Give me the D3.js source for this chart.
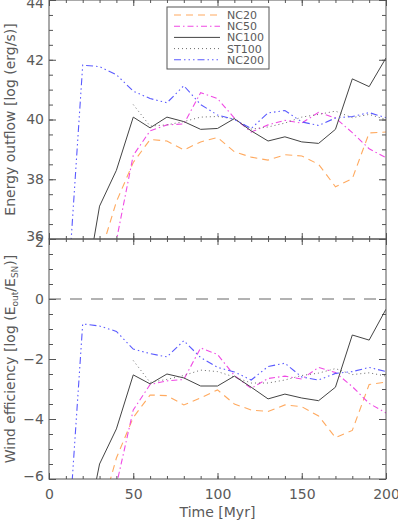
<!DOCTYPE html>
<html>
<head>
<meta charset="utf-8">
<script src="https://cdn.jsdelivr.net/npm/d3@7"></script>
<style>
	body { margin: 0; background: #fff; }
	text { font-family: 'DejaVu Sans', sans-serif; fill: #5a5a5a; }
</style>
</head>
<body>
<svg id="chart" width="398" height="521"></svg>
<script>
// simulation output times (Myr)
const times = [10, 20, 30, 40, 50, 60, 70, 80, 90, 100, 110, 120, 130, 140, 150, 160, 170, 180, 190, 200];

const seriesNames = ['NC20', 'NC50', 'NC100', 'ST100', 'NC200'];

// energy outflow, log (erg/s)
const outNC20 = [null, null, 35.4, 37.25, 38.56, 39.33, 39.28, 38.98, 39.25, 39.4, 38.92, 38.74, 38.64, 38.82, 38.78, 38.5, 37.75, 38.02, 39.55, 39.58];
const outNC50 = [null, null, 33.6, 35.95, 38.8, 39.62, 39.82, 39.85, 40.9, 40.7, 40.05, 39.58, 39.82, 39.97, 39.88, 40.24, 40.05, 39.56, 39.02, 38.72];
const outNC100 = [null, 33.8, 37.1, 38.3, 40.08, 39.72, 40.08, 39.93, 39.67, 39.7, 40.03, 39.62, 39.28, 39.42, 39.25, 39.2, 39.67, 41.36, 41.1, 42.06];
const outST100 = [null, null, null, null, 40.5, 39.78, 39.82, 39.93, 40.08, 40.1, 40.02, 39.68, 39.75, 39.88, 40.08, 40.17, 40.28, 40.06, 40.17, 40.0];
const outNC200 = [33.3, 41.82, 41.77, 41.5, 40.95, 40.7, 40.56, 41.13, 40.5, 40.15, 40.0, 39.7, 40.22, 40.3, 39.92, 39.8, 40.05, 40.1, 40.23, 40.06];

// wind efficiency, log (E_out / E_SN)
const effNC20 = [null, null, -7.3, -5.3, -3.95, -3.2, -3.22, -3.53, -3.3, -3.03, -3.5, -3.7, -3.75, -3.53, -3.59, -3.9, -4.62, -4.38, -2.85, -2.77];
const effNC50 = [null, null, -9.5, -6.2, -3.7, -2.85, -2.73, -2.68, -1.63, -1.85, -2.55, -2.98, -2.65, -2.57, -2.67, -2.28, -2.45, -2.92, -3.48, -3.8];
const effNC100 = [null, -8.3, -5.5, -4.33, -2.53, -2.83, -2.5, -2.63, -2.9, -2.9, -2.57, -2.94, -3.33, -3.17, -3.3, -3.39, -2.94, -1.2, -1.37, -0.34];
const effST100 = [null, null, null, null, -2.05, -2.78, -2.68, -2.55, -2.37, -2.42, -2.6, -2.8, -2.8, -2.7, -2.55, -2.47, -2.32, -2.52, -2.46, -2.57];
const effNC200 = [-9.2, -0.83, -0.9, -1.08, -1.67, -1.82, -1.93, -1.39, -1.95, -2.28, -2.43, -2.7, -2.25, -2.14, -2.6, -2.7, -2.48, -2.42, -2.28, -2.42];

const xTicks = [0, 50, 100, 150, 200];
const outTicks = [36, 38, 40, 42, 44];
const effTicks = [-6, -4, -2, 0, 2];

const styles = {
	NC20: { color: '#ffaa60', dash: '7,5', width: 1.1 },
	NC50: { color: '#f04ae4', dash: '6,3,1.5,3', width: 1.1 },
	NC100: { color: '#444', dash: null, width: 1 },
	ST100: { color: '#6a6a6a', dash: '1,3', width: 1 },
	NC200: { color: '#5a5aff', dash: '7,3,1.5,3,1.5,3,1.5,3', width: 1.1 }
};

const $svg = d3.select('#chart');
const LEFT = 49;
const RIGHT = 386;
const AXIS = '#555';

const x = d3.scaleLinear().domain([0, 200]).range([LEFT, RIGHT]);

function drawPanel({ id, top, bottom, domain, ticks, data, title, showX }) {
	const y = d3.scaleLinear().domain(domain).range([bottom, top]);
	const $g = $svg.append('g').attr('class', id);

	$g.append('clipPath')
		.attr('id', `clip-${id}`)
		.append('rect')
		.attr('x', LEFT)
		.attr('y', top)
		.attr('width', RIGHT - LEFT)
		.attr('height', bottom - top);

	const minorY = d3.range(domain[0], domain[1] + 0.01, 0.5);
	const minorX = d3.range(0, 201, 10);

	// inward ticks on all four sides
	const addAxis = (axis, tr) => {
		const a = $g.append('g').attr('transform', tr).call(axis);
		a.select('.domain').remove();
		a.selectAll('line').attr('stroke', AXIS);
		return a;
	};

	addAxis(d3.axisLeft(y).tickValues(minorY).tickSize(-4).tickFormat(''), `translate(${LEFT},0)`);
	addAxis(d3.axisRight(y).tickValues(minorY).tickSize(-4).tickFormat(''), `translate(${RIGHT},0)`);
	addAxis(d3.axisRight(y).tickValues(ticks).tickSize(-7).tickFormat(''), `translate(${RIGHT},0)`);
	const yAx = addAxis(d3.axisLeft(y).tickValues(ticks).tickSize(-7).tickPadding(5), `translate(${LEFT},0)`);
	yAx.selectAll('text')
		.attr('font-size', 14)
		.attr('font-family', null)
		.attr('fill', null)
		.attr('y', (d, i) => (i === 0 ? -3 : i === ticks.length - 1 ? 3 : 0));

	addAxis(d3.axisTop(x).tickValues(minorX).tickSize(-3).tickFormat(''), `translate(0,${top})`);
	addAxis(d3.axisTop(x).tickValues(xTicks).tickSize(-6).tickFormat(''), `translate(0,${top})`);
	addAxis(d3.axisBottom(x).tickValues(minorX).tickSize(-3).tickFormat(''), `translate(0,${bottom})`);
	const xAx = addAxis(
		d3.axisBottom(x).tickValues(xTicks).tickSize(-6).tickPadding(10)
			.tickFormat(showX ? d3.format('d') : ''),
		`translate(0,${bottom})`
	);
	xAx.selectAll('text').attr('font-size', 14).attr('font-family', null).attr('fill', null);

	if (id === 'eff') {
		$g.append('line')
			.attr('x1', LEFT)
			.attr('x2', RIGHT)
			.attr('y1', y(0))
			.attr('y2', y(0))
			.attr('stroke', '#666')
			.attr('stroke-dasharray', '12,9');
	}

	const line = d3.line()
		.defined(d => d[1] !== null)
		.x(d => x(d[0]))
		.y(d => y(d[1]));

	seriesNames.forEach((name, i) => {
		const pts = times.map((t, j) => [t, data[i][j]]);
		$g.append('path')
			.datum(pts)
			.attr('clip-path', `url(#clip-${id})`)
			.attr('fill', 'none')
			.attr('stroke', styles[name].color)
			.attr('stroke-width', styles[name].width)
			.attr('stroke-dasharray', styles[name].dash)
			.attr('d', line);
	});

	$g.append('rect')
		.attr('x', LEFT)
		.attr('y', top)
		.attr('width', RIGHT - LEFT)
		.attr('height', bottom - top)
		.attr('fill', 'none')
		.attr('stroke', AXIS);

	const mid = (top + bottom) / 2;
	$g.append('text')
		.attr('transform', `translate(15,${mid}) rotate(-90)`)
		.attr('text-anchor', 'middle')
		.attr('font-size', 14)
		.call(title);

	return $g;
}

const $out = drawPanel({
	id: 'out',
	top: 0,
	bottom: 239,
	domain: [36, 44],
	ticks: outTicks,
	data: [outNC20, outNC50, outNC100, outST100, outNC200],
	title: t => t.text('Energy outflow [log (erg/s)]'),
	showX: false
});

drawPanel({
	id: 'eff',
	top: 239,
	bottom: 479,
	domain: [-6, 2],
	ticks: effTicks,
	data: [effNC20, effNC50, effNC100, effST100, effNC200],
	title: t => {
		t.append('tspan').text('Wind efficiency [log (E');
		t.append('tspan').attr('font-size', 9).attr('dy', 3).text('out');
		t.append('tspan').attr('dy', -3).text('/E');
		t.append('tspan').attr('font-size', 9).attr('dy', 3).text('SN');
		t.append('tspan').attr('dy', -3).text(')]');
	},
	showX: true
});

$svg.append('text')
	.attr('x', x(100))
	.attr('y', 517)
	.attr('text-anchor', 'middle')
	.attr('font-size', 14)
	.text('Time [Myr]');

// legend
const $legend = $out.append('g');
$legend.append('rect')
	.attr('x', 167)
	.attr('y', 7)
	.attr('width', 102)
	.attr('height', 62)
	.attr('fill', '#fff')
	.attr('stroke', AXIS);

seriesNames.forEach((name, i) => {
	const ly = 15 + i * 11.2;
	$legend.append('line')
		.attr('x1', 174)
		.attr('x2', 220)
		.attr('y1', ly)
		.attr('y2', ly)
		.attr('stroke', styles[name].color)
		.attr('stroke-width', styles[name].width)
		.attr('stroke-dasharray', styles[name].dash);
	$legend.append('text')
		.attr('x', 227)
		.attr('y', ly)
		.attr('dy', '0.36em')
		.attr('font-size', 11)
		.text(name);
});
</script>
</body>
</html>
